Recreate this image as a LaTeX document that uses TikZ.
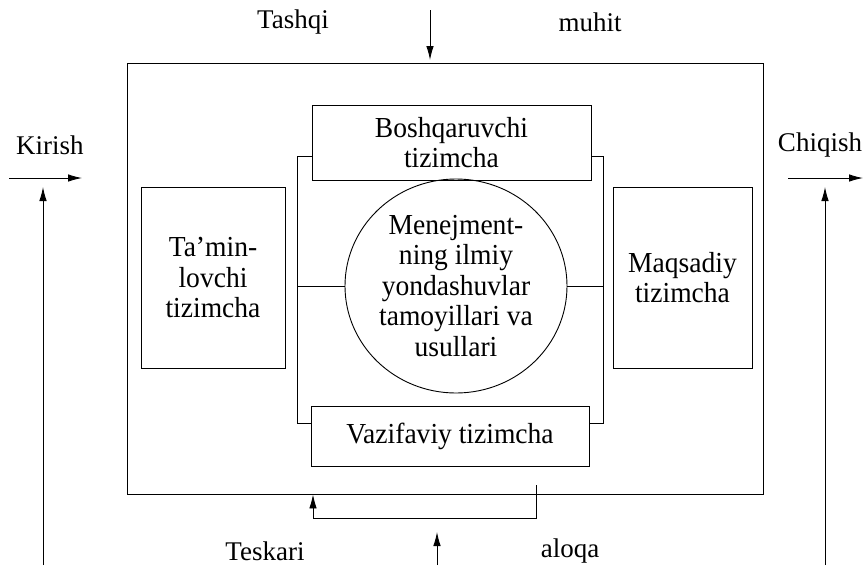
\documentclass[tikz,border=0pt]{standalone}
\usepackage{fontspec}
\setmainfont{Liberation Serif}
\newfontfamily\innerfont{Liberation Serif}[FakeStretch=0.95]
\usetikzlibrary{calc}
\usetikzlibrary{arrows.meta, shapes.geometric}

\begin{document}
\begin{tikzpicture}[
		x=1pt, y=-1pt,
		>={Latex[length=14pt,width=7.5pt]},
		every node/.style={font=\fontsize{27}{31}\selectfont},
		box/.style={draw, line width=0.9pt, align=center, inner sep=0pt,
			font=\innerfont\fontsize{29}{30.5}\selectfont},
		yadrostyle/.style={box, ellipse, minimum width=222pt, minimum height=214pt},
		link/.style={line width=0.9pt},
		flow/.style={line width=0.9pt, ->},
	]
	\useasboundingbox (0,0) rectangle (865,574);
	% outer system
	\node[box, minimum width=636pt, minimum height=431pt] (tizim) at (445,278.5) {};
	% inner parts
	\node[box, minimum width=279pt, minimum height=75pt] (boshq) at (451.5,142.5) {Boshqaruvchi\\tizimcha};
	\node[box, minimum width=278pt, minimum height=60pt] (vazif) at (450,436) {Vazifaviy tizimcha};
	\node[box, minimum width=144pt, minimum height=181pt] (taminl) at (213,277.5) {Ta’min-\\lovchi\\tizimcha};
	\node[box, minimum width=139pt, minimum height=181pt] (maqsad) at (682.5,277.5) {Maqsadiy\\tizimcha};
	\node[yadrostyle] (yadro) at (456,286) {Menejment-\\ning ilmiy\\yondashuvlar\\tamoyillari va\\usullari};
	% brackets
	\coordinate (lt) at (297,156);
	\coordinate (lb) at (297,423);
	\coordinate (rt) at (603,156);
	\coordinate (rb) at (603,423);
	\draw[link] (boshq.west |- lt) -- (lt) -- (lb) -- (vazif.west |- lb);
	\draw[link] (boshq.east |- rt) -- (rt) -- (rb) -- (vazif.east |- rb);
	\draw[link] (yadro.west) -- (lt |- yadro.west);
	\draw[link] (yadro.east) -- (rt |- yadro.east);
	% labels outside
	\node (tashqi) at (293,22) {Tashqi};
	\node (muhit) at (590,22) {muhit};
	\node (kirish) at (50,145) {Kirish};
	\node (chiqish) at (820,145) {Chiqish};
	\node (teskari) at (265,551) {Teskari};
	\node (aloqa) at (570,551) {aloqa};
	% arrows
	\coordinate (top0) at (430,10);
	\coordinate (top1) at (430,60);
	\draw[flow] (top0) -- (top1);
	\coordinate (kir0) at (9,178);
	\coordinate (kir1) at (82,178);
	\draw[flow] (kir0) -- (kir1);
	\coordinate (kv0) at (43,565);
	\coordinate (kv1) at (43,187);
	\draw[flow] (kv0) -- (kv1);
	\coordinate (chi0) at (788,178);
	\coordinate (chi1) at (863,178);
	\draw[flow] (chi0) -- (chi1);
	\coordinate (cv0) at (825,565);
	\coordinate (cv1) at (825,187);
	\draw[flow] (cv0) -- (cv1);
	\coordinate (bot0) at (437,565);
	\coordinate (bot1) at (437,532);
	\draw[flow] (bot0) -- (bot1);
	% feedback loop
	\coordinate (fb0) at (536,485);
	\coordinate (fb1) at (313,518);
	\draw[flow] (fb0) |- (fb1) -- (fb1 |- tizim.south);
\end{tikzpicture}
\end{document}
